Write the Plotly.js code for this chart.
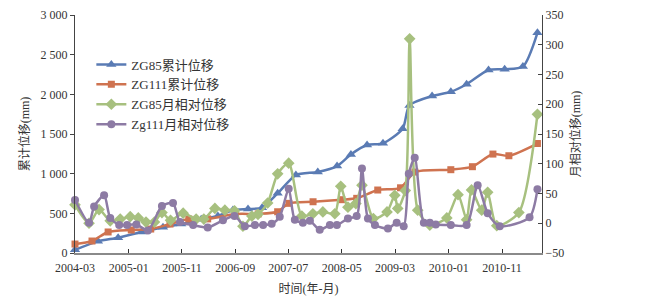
<!DOCTYPE html>
<html><head><meta charset="utf-8">
<script src="https://cdn.plot.ly/plotly-3.0.1.min.js"></script>
<style>html,body{margin:0;padding:0;background:#fff}#chart{width:648px;height:301px}</style>
</head><body><div id="chart"></div>
<script>
// ZG85 cumulative displacement (mm, left axis)
const zg85CumDates = ['2004-03-01','2004-07-10','2004-11-02','2005-03-16','2005-07-16','2005-10-28','2006-02-19','2006-05-25','2006-08-19','2006-11-13','2007-02-01','2007-05-01','2007-08-13','2007-12-16','2008-04-04','2008-06-22','2008-09-22','2008-12-22','2009-04-13','2009-05-22','2009-09-28','2010-01-13','2010-04-13','2010-08-16','2010-11-16','2011-02-28','2011-05-22'];
const zg85Cum = [40,147,193,265,324,365,425,466,542,554,571,752,983,1021,1096,1243,1361,1382,1565,1860,1978,2032,2127,2306,2316,2350,2776];

// ZG111 cumulative displacement (mm, left axis)
const zg111CumDates = ['2004-03-01','2004-06-06','2004-09-06','2005-01-16','2005-05-07','2005-08-25','2005-12-10','2006-03-28','2006-09-01','2007-01-10','2007-05-01','2007-07-04','2007-11-19','2008-05-01','2008-07-25','2008-11-22','2009-04-01','2009-06-22','2010-01-13','2010-05-16','2010-09-10','2010-12-10','2011-05-22'];
const zg111Cum = [113,151,265,290,302,365,428,430,491,493,520,626,646,672,689,794,822,1020,1050,1088,1247,1226,1380];

// ZG85 monthly relative displacement (mm, right axis)
const zg85RelDates = ['2004-03-01','2004-05-20','2004-07-16','2004-09-18','2004-11-14','2005-01-10','2005-02-25','2005-04-10','2005-05-28','2005-07-10','2005-08-28','2005-11-08','2006-01-21','2006-03-06','2006-05-08','2006-07-04','2006-08-28','2006-10-15','2006-12-05','2007-01-09','2007-03-05','2007-05-01','2007-07-03','2007-09-16','2007-11-18','2008-01-14','2008-03-22','2008-04-25','2008-06-05','2008-07-20','2008-08-24','2008-10-28','2009-01-14','2009-02-27','2009-03-16','2009-04-28','2009-05-23','2009-07-08','2009-09-15','2009-12-21','2010-02-23','2010-04-13','2010-05-11','2010-07-08','2010-08-11','2010-10-02','2011-02-05','2011-05-22'];
const zg85Rel = [31,0,23,4,7,11,9,2,2,18,5,17,7,7,25,22,21,-5,12,15,34,83,101,12,16,19,16,62,27,33,64,8,19,47,25,55,310,22,-3,9,48,6,56,22,52,-4,18,183];

// Zg111 monthly relative displacement (mm, right axis)
const zg111RelDates = ['2004-03-01','2004-05-20','2004-06-18','2004-08-14','2004-09-18','2004-11-08','2004-12-23','2005-02-14','2005-04-21','2005-07-10','2005-09-11','2005-10-21','2006-01-04','2006-03-28','2006-06-23','2006-08-28','2006-10-26','2006-12-22','2007-02-07','2007-03-28','2007-05-13','2007-07-03','2007-08-07','2007-09-22','2007-11-01','2007-12-27','2008-02-23','2008-04-03','2008-06-05','2008-07-25','2008-08-24','2008-09-27','2008-11-06','2009-01-19','2009-03-10','2009-04-19','2009-05-18','2009-06-21','2009-08-12','2009-09-15','2009-10-19','2010-01-13','2010-04-13','2010-06-15','2010-08-11','2010-10-19','2011-04-07','2011-05-22'];
const zg111Rel = [39,1,28,47,9,-3,-3,-2,-12,29,34,2,-3,-7,5,12,-5,-3,-3,-1,11,58,6,1,4,-11,-3,-3,8,12,92,8,-3,-9,1,-5,83,110,1,1,-2,-3,-3,64,17,-5,10,57];

const xTickVals = ['2004-03-01','2005-01-01','2005-11-01','2006-09-01','2007-07-01','2008-05-01','2009-03-01','2010-01-01','2010-11-01'];
const xTickText = ['2004-03','2005-01','2005-11','2006-09','2007-07','2008-05','2009-03','2010-01','2010-11'];
const leftTickVals = [0,500,1000,1500,2000,2500,3000];
const leftTickText = ['0','500','1 000','1 500','2 000','2 500','3 000'];

const names = ['ZG85累计位移','ZG111累计位移','ZG85月相对位移','Zg111月相对位移'];
const colors = ['#5a7bb4','#cf7350','#a7c07f','#8d7ba4'];

const FONT = "'Liberation Serif', 'Noto Sans CJK SC', serif";
const lineStyle = (c) => ({color: c, width: 2.5, shape: 'spline', smoothing: 0.7});

const traces = [
  {x: zg85CumDates, y: zg85Cum, name: names[0], mode: 'lines+markers', line: lineStyle(colors[0]),
   marker: {symbol: 'triangle-up', size: 9, color: colors[0]}, yaxis: 'y', cliponaxis: false},
  {x: zg111CumDates, y: zg111Cum, name: names[1], mode: 'lines+markers', line: lineStyle(colors[1]),
   marker: {symbol: 'square', size: 7, color: colors[1]}, yaxis: 'y', cliponaxis: false},
  {x: zg85RelDates, y: zg85Rel, name: names[2], mode: 'lines+markers', line: lineStyle(colors[2]),
   marker: {symbol: 'diamond', size: 9, color: colors[2]}, yaxis: 'y2', cliponaxis: false},
  {x: zg111RelDates, y: zg111Rel, name: names[3], mode: 'lines+markers', line: lineStyle(colors[3]),
   marker: {symbol: 'circle', size: 8, color: colors[3]}, yaxis: 'y2', cliponaxis: false}
];

const layout = {
  width: 648, height: 301,
  margin: {l: 75, r: 106, t: 15, b: 48, pad: 0},
  paper_bgcolor: '#fff', plot_bgcolor: '#fff',
  font: {family: FONT, size: 12, color: '#333'},
  showlegend: true,
  legend: {x: 0.035, y: 0.855, xanchor: 'left', yanchor: 'top', bgcolor: 'rgba(0,0,0,0)',
           font: {family: FONT, size: 13, color: '#333'}, tracegroupgap: 0, itemwidth: 30},
  xaxis: {
    type: 'date', range: ['2004-03-01', '2011-06-17'],
    tickmode: 'array', tickvals: xTickVals, ticktext: xTickText,
    showgrid: false, zeroline: false,
    showline: true, linecolor: '#8a8a8a', linewidth: 2,
    ticks: 'inside', ticklen: 4, tickcolor: '#333', tickwidth: 1,
    ticklabelstandoff: 3,
    tickfont: {family: FONT, size: 12, color: '#333'},
    title: {text: '时间(年-月)', font: {family: FONT, size: 12, color: '#333'}, standoff: 10}
  },
  yaxis: {
    range: [0, 3000], tickmode: 'array', tickvals: leftTickVals, ticktext: leftTickText,
    showgrid: false, zeroline: false,
    showline: true, linecolor: '#444', linewidth: 1,
    ticks: 'outside', ticklen: 4, tickcolor: '#444',
    tickfont: {family: FONT, size: 12, color: '#333'},
    title: {text: '累计位移(mm)', font: {family: FONT, size: 12, color: '#333'}, standoff: 8}
  },
  yaxis2: {
    overlaying: 'y', side: 'right', range: [-50, 350], dtick: 50, tick0: 0,
    showgrid: false, zeroline: false,
    showline: true, linecolor: '#444', linewidth: 1,
    ticks: 'inside', ticklen: 4, tickcolor: '#444',
    tickfont: {family: FONT, size: 12, color: '#333'},
    title: {text: '月相对位移(mm)', font: {family: FONT, size: 12, color: '#333'}, standoff: 8}
  }
};

Plotly.newPlot('chart', traces, layout, {displayModeBar: false, staticPlot: true});
</script>
</body></html>
